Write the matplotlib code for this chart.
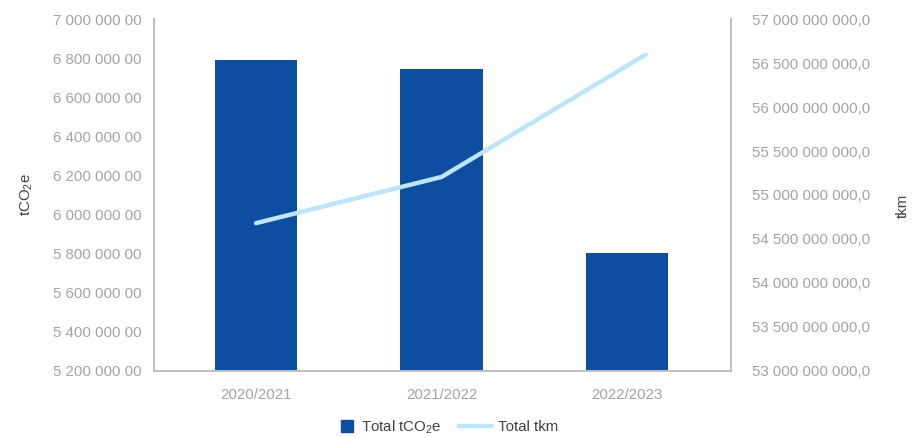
import matplotlib
matplotlib.use("Agg")
import matplotlib.pyplot as plt
from matplotlib.lines import Line2D
from matplotlib.ticker import FuncFormatter
import numpy as np

plt.rcParams['font.family'] = ['Liberation Sans', 'DejaVu Sans']

years = ['2020/2021', '2021/2022', '2022/2023']
total_co2 = [6790000, 6745000, 5805000]
total_tkm = [54680000000, 55205000000, 56595000000]
tkm_x = [0, 1, 2.1]

co2_ticks = np.arange(5200000, 7000001, 200000)
tkm_ticks = np.arange(53000000000, 57000000001, 500000000)

bar_color = '#0d4ea1'
line_color = '#bce5f8'
spine_color = '#bfbfbf'
tick_color = '#a3a3a3'
label_color = '#404040'


def co2_fmt(v, pos):
    return '{:,.0f}'.format(v).replace(',', ' ') + ' 00'


def tkm_fmt(v, pos):
    return '{:,.0f}'.format(v).replace(',', ' ') + ',0'


fig = plt.figure(figsize=(9.21, 4.38), dpi=100)
ax = fig.add_axes([0.1672, 0.153, 0.6265, 0.8036])
x = np.arange(len(years))
ax.bar(x, total_co2, width=0.446, color=bar_color, zorder=2)
ax.set_xlim(-0.55, 2.56)
ax.set_ylim(5200000, 7000000)
ax.set_yticks(co2_ticks)
ax.yaxis.set_major_formatter(FuncFormatter(co2_fmt))
ax.set_xticks(x)
ax.set_xticklabels(years)

ax2 = ax.twinx()
ax2.plot(tkm_x, total_tkm, color=line_color, lw=3.2, solid_capstyle='round', zorder=3)
ax2.set_ylim(53000000000, 57000000000)
ax2.set_yticks(tkm_ticks)
ax2.yaxis.set_major_formatter(FuncFormatter(tkm_fmt))

for a in (ax, ax2):
    a.spines['top'].set_visible(False)
    for s in ('left', 'right', 'bottom'):
        a.spines[s].set_color(spine_color)
        a.spines[s].set_linewidth(1.2)
    a.tick_params(length=0, labelsize=10.8, labelcolor=tick_color)
ax.tick_params(axis='y', pad=9)
ax.tick_params(axis='x', pad=12)
ax2.tick_params(axis='y', pad=15)

ax.set_ylabel(r'tCO$_\mathregular{2}$e', fontsize=10.8, color=label_color)
ax.yaxis.set_label_coords(-0.207, 0.5)
ax2.set_ylabel('tkm', fontsize=10.8, color=label_color)
ax2.yaxis.set_label_coords(1.285, 0.47)

# two legends so each handle gets its own length
leg_y = 1 - 427 / 438
leg1 = fig.legend([Line2D([], [], ls='none', marker='s', markersize=8, color=bar_color)],
                  [r'Total tCO$_\mathregular{2}$e'],
                  loc='center', bbox_to_anchor=(391 / 921, leg_y),
                  frameon=False, fontsize=10.8, labelcolor=label_color,
                  handlelength=0.8, handletextpad=0.5)
fig.legend([Line2D([], [], color=line_color, lw=3.2)], ['Total tkm'],
           loc='center', bbox_to_anchor=(509 / 921, leg_y),
           frameon=False, fontsize=10.8, labelcolor=label_color,
           handlelength=2.1, handletextpad=0.5)

fig.savefig('out.png', dpi=100)
